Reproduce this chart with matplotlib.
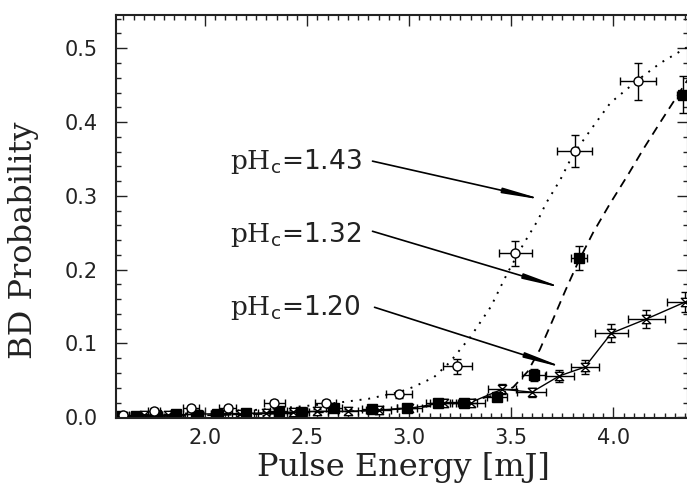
import matplotlib
matplotlib.use("Agg")
import matplotlib.pyplot as plt
from matplotlib.path import Path
from matplotlib.ticker import MultipleLocator, FormatStrFormatter

plt.rcParams['mathtext.fontset'] = 'custom'
plt.rcParams['mathtext.rm'] = 'DejaVu Serif'
plt.rcParams['mathtext.sf'] = 'DejaVu Sans'

# pH_c = 1.43  (open circles)
e143 = [1.60, 1.75, 1.93, 2.11, 2.34, 2.59, 2.95, 3.235, 3.52, 3.81, 4.12]
p143 = [0.003, 0.009, 0.012, 0.012, 0.019, 0.019, 0.031, 0.069, 0.222, 0.361, 0.455]
ex143 = [0.03, 0.03, 0.04, 0.04, 0.05, 0.05, 0.065, 0.07, 0.08, 0.086, 0.09]
ey143 = [0.002, 0.003, 0.003, 0.003, 0.004, 0.004, 0.005, 0.01, 0.017, 0.022, 0.025]

# pH_c = 1.32  (filled squares)
e132 = [1.58, 1.66, 1.76, 1.86, 1.96, 2.06, 2.20, 2.36, 2.47, 2.63, 2.82, 2.99,
        3.14, 3.27, 3.43, 3.61, 3.83, 4.34]
p132 = [0.002, 0.002, 0.003, 0.004, 0.003, 0.004, 0.006, 0.009, 0.007, 0.013,
        0.011, 0.012, 0.019, 0.020, 0.028, 0.057, 0.216, 0.437]
ex132 = [0.03, 0.03, 0.03, 0.03, 0.03, 0.03, 0.04, 0.04, 0.04, 0.04, 0.05, 0.05,
         0.06, 0.06, 0.05, 0.06, 0.04, 0.03]
ey132 = [0.002, 0.002, 0.002, 0.002, 0.002, 0.002, 0.003, 0.003, 0.003, 0.003,
         0.004, 0.004, 0.005, 0.005, 0.006, 0.008, 0.016, 0.025]

# pH_c = 1.20  (hourglass markers, joined)
e120 = [1.60, 1.70, 1.82, 1.95, 2.07, 2.17, 2.30, 2.43, 2.55, 2.70, 2.85, 3.00,
        3.17, 3.30, 3.455, 3.60, 3.735, 3.86, 3.99, 4.16, 4.35]
p120 = [0.002, 0.003, 0.003, 0.004, 0.005, 0.005, 0.006, 0.007, 0.008, 0.008,
        0.010, 0.012, 0.020, 0.020, 0.038, 0.034, 0.056, 0.068, 0.114, 0.133, 0.156]
ex120 = [0.03, 0.03, 0.03, 0.04, 0.04, 0.04, 0.04, 0.05, 0.05, 0.05, 0.06, 0.06,
         0.07, 0.07, 0.07, 0.07, 0.07, 0.07, 0.08, 0.09, 0.09]
ey120 = [0.002, 0.002, 0.002, 0.002, 0.002, 0.003, 0.003, 0.003, 0.003, 0.003,
         0.004, 0.004, 0.005, 0.005, 0.007, 0.006, 0.008, 0.009, 0.012, 0.012, 0.014]

# fitted curves
fit143_e = [1.56, 1.8, 2.0, 2.2, 2.4, 2.6, 2.8, 2.95, 3.02, 3.12, 3.2, 3.3, 3.4,
            3.48, 3.56, 3.63, 3.67, 3.74, 3.80, 3.89, 3.985, 4.12, 4.23, 4.365]
fit143_p = [0.002, 0.004, 0.006, 0.009, 0.013, 0.018, 0.025, 0.034, 0.041, 0.054,
            0.075, 0.109, 0.150, 0.195, 0.235, 0.267, 0.290, 0.322, 0.355, 0.390,
            0.426, 0.457, 0.480, 0.502]
fit132_e = [1.56, 1.9, 2.2, 2.5, 2.8, 3.0, 3.2, 3.36, 3.45, 3.51, 3.58, 3.64, 3.70,
            3.765, 3.83, 3.90, 3.98, 4.07, 4.15, 4.23, 4.30, 4.365]
fit132_p = [0.001, 0.002, 0.004, 0.006, 0.009, 0.012, 0.018, 0.026, 0.032, 0.041,
            0.062, 0.092, 0.130, 0.172, 0.212, 0.250, 0.288, 0.328, 0.365, 0.400,
            0.430, 0.458]

labels = [r'$\mathrm{pH}_{\mathsf{c}}$=1.43', r'$\mathrm{pH}_{\mathsf{c}}$=1.32',
          r'$\mathrm{pH}_{\mathsf{c}}$=1.20']
label_y = [0.3365, 0.2375, 0.138]
arrow_from = [(2.82, 0.347), (2.82, 0.252), (2.83, 0.149)]
arrow_to = [(3.667, 0.294), (3.765, 0.174), (3.77, 0.066)]

hourglass = Path([(-1, 1), (1, 1), (-1, -1), (1, -1), (-1, 1)],
                 [Path.MOVETO, Path.LINETO, Path.LINETO, Path.LINETO, Path.CLOSEPOLY])

fig = plt.figure(figsize=(6.87, 4.93), dpi=100)
ax = fig.add_axes([116/687, 1-418/493, 572/687, 403/493])

eb = dict(ecolor='k', elinewidth=1.0, capsize=3, capthick=1.0)
ax.plot(fit143_e, fit143_p, ':', color='k', lw=1.4, dashes=(1, 3.5))
ax.plot(fit132_e, fit132_p, '--', color='k', lw=1.3, dashes=(5, 3.5))
ax.errorbar(e120, p120, xerr=ex120, yerr=ey120, fmt='-', color='k', lw=1.0,
            marker=hourglass, ms=6, mfc='white', mec='k', mew=1.0, **eb)
ax.errorbar(e132, p132, xerr=ex132, yerr=ey132, fmt='s', color='k', ms=6.5,
            mfc='k', mec='k', **eb)
ax.errorbar(e143, p143, xerr=ex143, yerr=ey143, fmt='o', color='k', ms=6.5,
            mfc='white', mec='k', mew=1.0, **eb)

for lab, ly, a0, a1 in zip(labels, label_y, arrow_from, arrow_to):
    ax.text(2.123, ly, lab, fontsize=19, family='DejaVu Sans', va='baseline',
            ha='left', color='#222222')
    ax.annotate('', xy=a1, xytext=a0,
                arrowprops=dict(arrowstyle='-|>,head_length=2.3,head_width=0.15',
                                color='k', lw=1.2, shrinkA=0, shrinkB=0))

ax.set_xlim(1.564, 4.365)
ax.set_ylim(-0.001, 0.545)
ax.xaxis.set_major_locator(MultipleLocator(0.5))
ax.xaxis.set_minor_locator(MultipleLocator(0.05))
ax.yaxis.set_major_locator(MultipleLocator(0.1))
ax.yaxis.set_minor_locator(MultipleLocator(0.02))
ax.xaxis.set_major_formatter(FormatStrFormatter('%.1f'))
ax.yaxis.set_major_formatter(FormatStrFormatter('%.1f'))
ax.tick_params(which='both', direction='in', top=True, right=True, width=1.0,
               color='#222222')
ax.tick_params(which='major', length=8)
ax.tick_params(which='minor', length=3.5)
ax.tick_params(axis='y', which='major', pad=13, labelsize=15, labelcolor='#222222')
ax.tick_params(axis='x', which='major', pad=7, labelsize=15, labelcolor='#222222')
for s in ax.spines.values():
    s.set_linewidth(1.5)
    s.set_color('#222222')

ax.set_xlabel('Pulse Energy [mJ]', family='DejaVu Serif', fontsize=23, color='#222222')
ax.set_ylabel('BD Probability', family='DejaVu Serif', fontsize=23, color='#222222')
ax.xaxis.set_label_coords(0.503, -0.085)
ax.yaxis.set_label_coords(-0.135, 0.44)

fig.savefig('out.png', dpi=100)
